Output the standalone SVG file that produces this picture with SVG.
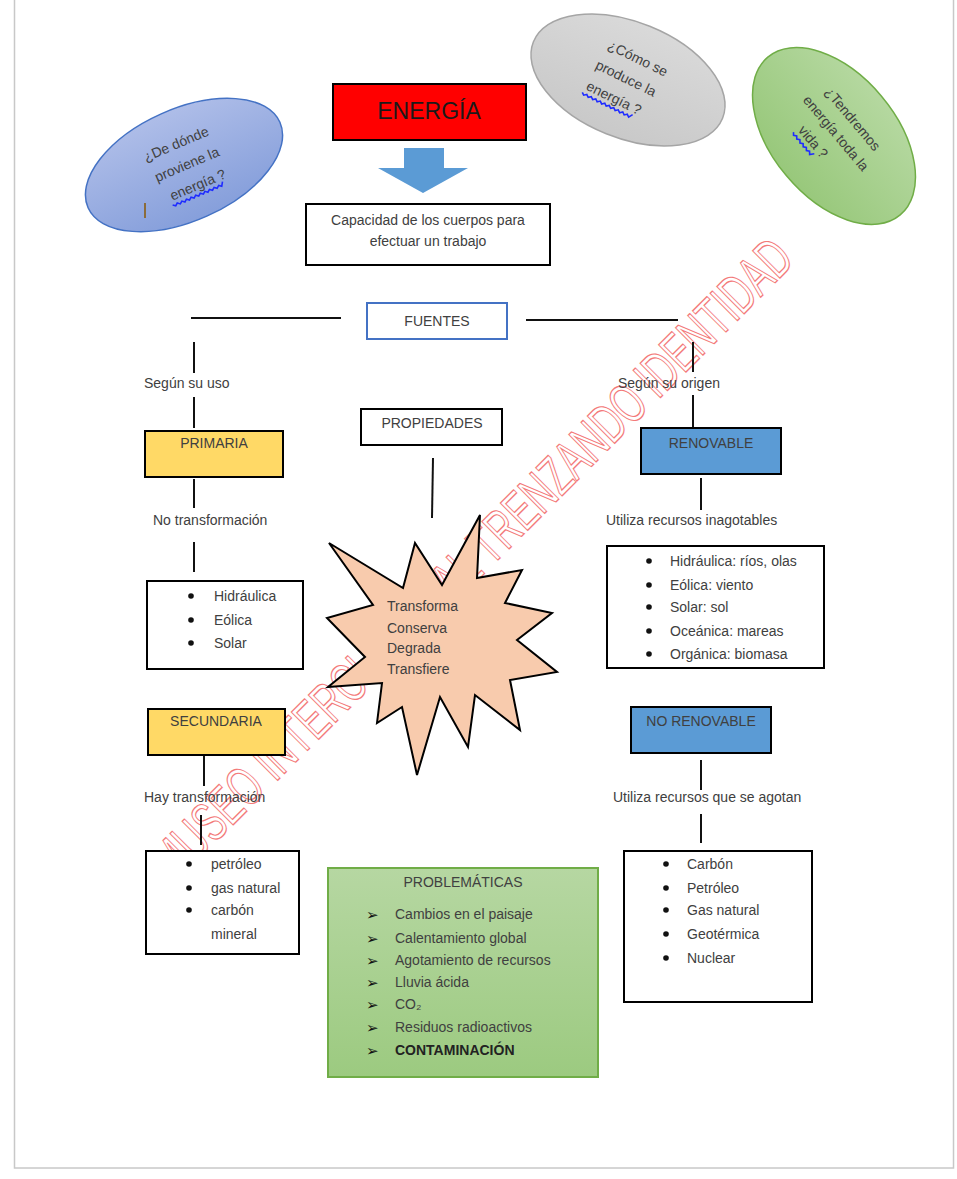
<svg xmlns="http://www.w3.org/2000/svg" width="957" height="1179" viewBox="0 0 957 1179">
<style>
.t{font-family:"Liberation Sans",Arial,sans-serif;font-size:14px;fill:#404040}
.c{text-anchor:middle}
.box{fill:#fff;stroke:#000;stroke-width:2}
.ln{stroke:#111;stroke-width:2;fill:none}
.sq{stroke:#1f2cff;stroke-width:1.6;fill:none}
.bl{fill:#111}
.ar{font-family:"DejaVu Sans",sans-serif;font-size:15px;fill:#111}
.wm{font-family:"Liberation Sans Narrow","Liberation Sans",Arial,sans-serif;font-size:56px;fill:none;stroke:#f37a7a;stroke-width:1.3}
</style>
<defs>
<linearGradient id="gBlue" x1="0" y1="0" x2="0" y2="1"><stop offset="0" stop-color="#aebde8"/><stop offset="1" stop-color="#869fdb"/></linearGradient>
<linearGradient id="gGray" x1="0" y1="0" x2="0" y2="1"><stop offset="0" stop-color="#d9d9d9"/><stop offset="1" stop-color="#c9c9c9"/></linearGradient>
<linearGradient id="gGreen" x1="0" y1="0" x2="0" y2="1"><stop offset="0" stop-color="#b5d8a0"/><stop offset="1" stop-color="#98c87b"/></linearGradient>
<linearGradient id="gProb" x1="0" y1="0" x2="0" y2="1"><stop offset="0" stop-color="#b6d7a2"/><stop offset="1" stop-color="#9cca80"/></linearGradient>
</defs>
<rect x="0" y="0" width="957" height="1179" fill="#fff"/>
<rect x="14.5" y="-5" width="939" height="1173" fill="#fff" stroke="#c8c8c8" stroke-width="1.5"/>

<g id="watermark">
<text class="wm" transform="translate(174,884) rotate(-45)" textLength="880" lengthAdjust="spacingAndGlyphs">MUSEO INTERCULTURAL TRENZANDO IDENTIDAD</text>
</g>

<g id="connectors">
<line class="ln" x1="191" y1="318" x2="341" y2="318"/>
<line class="ln" x1="526" y1="320" x2="678" y2="320"/>
<line class="ln" x1="194" y1="342" x2="194" y2="373"/>
<line class="ln" x1="194" y1="397" x2="194" y2="428"/>
<line class="ln" x1="693" y1="342" x2="693" y2="372"/>
<line class="ln" x1="693" y1="395" x2="693" y2="428"/>
<line class="ln" x1="433" y1="458" x2="432" y2="518"/>
<line class="ln" x1="194" y1="479" x2="194" y2="508"/>
<line class="ln" x1="194" y1="542" x2="194" y2="572"/>
<line class="ln" x1="701" y1="478" x2="701" y2="510"/>
<line class="ln" x1="204" y1="756" x2="204" y2="786"/>
<line class="ln" x1="201" y1="815" x2="201" y2="845"/>
<line class="ln" x1="701" y1="760" x2="701" y2="790"/>
<line class="ln" x1="701" y1="814" x2="701" y2="843"/>
</g>

<g id="q-donde">
<ellipse cx="184" cy="165" rx="105" ry="56" transform="rotate(-24 184 165)" fill="url(#gBlue)" stroke="#4472c4" stroke-width="1.5"/>
<g transform="translate(185,165) rotate(-23)">
<text class="t c" x="0" y="-18">¿De dónde</text>
<text class="t c" x="2" y="5">proviene la</text>
<text class="t c" x="4" y="28">energía ?</text>
<path class="sq" d="M-27,32 l2.5,2 l2.5,-2 l2.5,2 l2.5,-2 l2.5,2 l2.5,-2 l2.5,2 l2.5,-2 l2.5,2 l2.5,-2 l2.5,2 l2.5,-2 l2.5,2 l2.5,-2 l2.5,2 l2.5,-2 l2.5,2 l2.5,-2 l2.5,2 l2.5,-2 l2.5,2 l2.5,-4"/>
</g>
<line x1="145" y1="203" x2="145" y2="218" stroke="#8b6c3a" stroke-width="2"/>
</g>

<g id="q-como">
<ellipse cx="628" cy="80" rx="102" ry="58" transform="rotate(22 628 80)" fill="url(#gGray)" stroke="#a5a5a5" stroke-width="1.5"/>
<g transform="translate(626,78) rotate(26)">
<text class="t c" x="2" y="-18">¿Cómo se</text>
<text class="t c" x="0" y="5">produce la</text>
<text class="t c" x="-2" y="28">energía ?</text>
<path class="sq" d="M-33,32 l2.5,2 l2.5,-2 l2.5,2 l2.5,-2 l2.5,2 l2.5,-2 l2.5,2 l2.5,-2 l2.5,2 l2.5,-2 l2.5,2 l2.5,-2 l2.5,2 l2.5,-2 l2.5,2 l2.5,-2 l2.5,2 l2.5,-2 l2.5,2 l2.5,-2 l2.5,2 l2.5,-4"/>
</g>
</g>

<g id="q-tendremos">
<ellipse cx="834" cy="136" rx="103" ry="62" transform="rotate(50 834 136)" fill="url(#gGreen)" stroke="#70ad47" stroke-width="1.5"/>
<g transform="translate(836,133) rotate(50)">
<text class="t c" x="0" y="-17">¿Tendremos</text>
<text class="t c" x="0" y="5">energía toda la</text>
<text class="t c" x="-8" y="28">vida ?</text>
<path class="sq" d="M-28,32 l2.5,2 l2.5,-2 l2.5,2 l2.5,-2 l2.5,2 l2.5,-2 l2.5,2 l2.5,-2 l2.5,2 l2.5,-2 l2.5,2 l2.5,-4"/>
</g>
</g>

<g id="energia">
<rect x="333" y="84" width="193" height="56" fill="#ff0000" stroke="#000" stroke-width="2"/>
<text class="t c" x="429" y="119" style="font-size:23px;fill:#1a1a1a">ENERGÍA</text>
</g>

<g id="arrow">
<polygon points="404,148 444,148 444,168 468,168 423,193 378,168 404,168" fill="#5b9bd5"/>
</g>

<g id="capacidad">
<rect class="box" x="306" y="204" width="244" height="61"/>
<text class="t c" x="428" y="225">Capacidad de los cuerpos para</text>
<text class="t c" x="428" y="246">efectuar un trabajo</text>
</g>

<g id="fuentes">
<rect x="367" y="303" width="140" height="36" fill="#fff" stroke="#4472c4" stroke-width="2"/>
<text class="t c" x="437" y="326">FUENTES</text>
</g>

<g id="segun-uso"><text class="t" x="144" y="388">Según su uso</text></g>
<g id="segun-origen"><text class="t" x="618" y="388">Según su origen</text></g>

<g id="propiedades">
<rect class="box" x="361" y="409" width="141" height="36"/>
<text class="t c" x="432" y="428">PROPIEDADES</text>
</g>

<g id="primaria">
<rect x="145" y="431" width="138" height="46" fill="#ffd966" stroke="#000" stroke-width="2"/>
<text class="t c" x="214" y="448">PRIMARIA</text>
</g>

<g id="renovable">
<rect x="641" y="428" width="140" height="46" fill="#5b9bd5" stroke="#000" stroke-width="2"/>
<text class="t c" x="711" y="448">RENOVABLE</text>
</g>

<g id="no-transformacion"><text class="t" x="153" y="525">No transformación</text></g>
<g id="inagotables"><text class="t" x="606" y="525">Utiliza recursos inagotables</text></g>

<g id="primaria-list">
<rect class="box" x="147" y="581" width="156" height="88"/>
<circle class="bl" cx="191" cy="596" r="2.8"/><text class="t" x="214" y="601">Hidráulica</text>
<circle class="bl" cx="191" cy="620" r="2.8"/><text class="t" x="214" y="625">Eólica</text>
<circle class="bl" cx="191" cy="643" r="2.8"/><text class="t" x="214" y="648">Solar</text>
</g>

<g id="renovable-list">
<rect class="box" x="607" y="546" width="217" height="122"/>
<circle class="bl" cx="649" cy="561" r="2.8"/><text class="t" x="670" y="566">Hidráulica: ríos, olas</text>
<circle class="bl" cx="649" cy="585" r="2.8"/><text class="t" x="670" y="590">Eólica: viento</text>
<circle class="bl" cx="649" cy="607" r="2.8"/><text class="t" x="670" y="612">Solar: sol</text>
<circle class="bl" cx="649" cy="631" r="2.8"/><text class="t" x="670" y="636">Oceánica: mareas</text>
<circle class="bl" cx="649" cy="654" r="2.8"/><text class="t" x="670" y="659">Orgánica: biomasa</text>
</g>

<g id="star">
<polygon points="329,543 403,588 415,543 442,585 480,515 477,578 522,570 505,603 552,613 517,640 557,672 510,680 520,730 475,695 468,747 440,697 417,775 402,707 377,723 382,683 328,687 365,657 327,618 373,605" fill="#f8cbad" stroke="#000" stroke-width="2" stroke-linejoin="miter"/>
<text class="t" x="387" y="611">Transforma</text>
<text class="t" x="387" y="633">Conserva</text>
<text class="t" x="387" y="653">Degrada</text>
<text class="t" x="387" y="674">Transfiere</text>
</g>

<g id="secundaria">
<rect x="148" y="709" width="137" height="46" fill="#ffd966" stroke="#000" stroke-width="2"/>
<text class="t c" x="216" y="726">SECUNDARIA</text>
</g>

<g id="no-renovable">
<rect x="631" y="707" width="140" height="46" fill="#5b9bd5" stroke="#000" stroke-width="2"/>
<text class="t c" x="701" y="726">NO RENOVABLE</text>
</g>

<g id="hay-transformacion"><text class="t" x="144" y="802">Hay transformación</text></g>
<g id="se-agotan"><text class="t" x="613" y="802">Utiliza recursos que se agotan</text></g>

<g id="secundaria-list">
<rect class="box" x="146" y="851" width="153" height="103"/>
<circle class="bl" cx="189" cy="864" r="2.8"/><text class="t" x="211" y="869">petróleo</text>
<circle class="bl" cx="189" cy="888" r="2.8"/><text class="t" x="211" y="893">gas natural</text>
<circle class="bl" cx="189" cy="910" r="2.8"/><text class="t" x="211" y="915">carbón</text>
<text class="t" x="211" y="939">mineral</text>
</g>

<g id="no-renovable-list">
<rect class="box" x="624" y="851" width="188" height="151"/>
<circle class="bl" cx="666" cy="864" r="2.8"/><text class="t" x="687" y="869">Carbón</text>
<circle class="bl" cx="666" cy="888" r="2.8"/><text class="t" x="687" y="893">Petróleo</text>
<circle class="bl" cx="666" cy="910" r="2.8"/><text class="t" x="687" y="915">Gas natural</text>
<circle class="bl" cx="666" cy="934" r="2.8"/><text class="t" x="687" y="939">Geotérmica</text>
<circle class="bl" cx="666" cy="958" r="2.8"/><text class="t" x="687" y="963">Nuclear</text>
</g>

<g id="problematicas">
<rect x="328" y="868" width="270" height="209" fill="url(#gProb)" stroke="#70ad47" stroke-width="2"/>
<text class="t c" x="463" y="887">PROBLEMÁTICAS</text>
<text class="ar" x="366" y="920">➢</text><text class="t" x="395" y="919">Cambios en el paisaje</text>
<text class="ar" x="366" y="944">➢</text><text class="t" x="395" y="943">Calentamiento global</text>
<text class="ar" x="366" y="966">➢</text><text class="t" x="395" y="965">Agotamiento de recursos</text>
<text class="ar" x="366" y="988">➢</text><text class="t" x="395" y="987">Lluvia ácida</text>
<text class="ar" x="366" y="1010">➢</text><text class="t" x="395" y="1009">CO₂</text>
<text class="ar" x="366" y="1033">➢</text><text class="t" x="395" y="1032">Residuos radioactivos</text>
<text class="ar" x="366" y="1056">➢</text><text class="t" x="395" y="1055" style="font-weight:bold;fill:#222">CONTAMINACIÓN</text>
</g>
</svg>
